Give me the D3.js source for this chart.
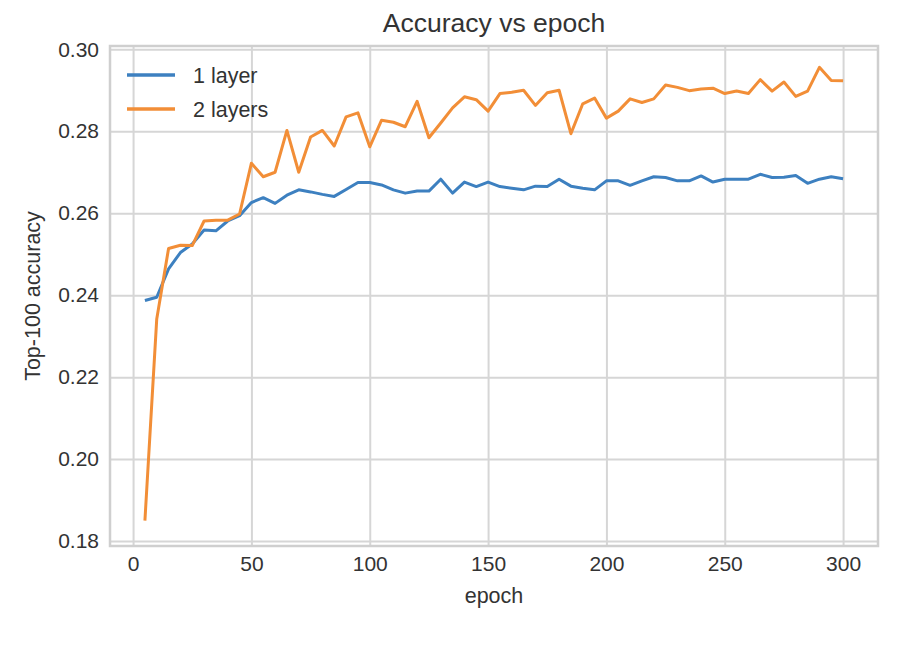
<!DOCTYPE html>
<html>
<head>
<meta charset="utf-8">
<script src="https://cdn.jsdelivr.net/npm/d3@7"></script>
<style>
  body { margin: 0; background: #fff; }
  text { font-family: "Liberation Sans", Arial, sans-serif; }
</style>
</head>
<body>
<div id="chart"></div>
<script>
// epochs on the x axis
var epochs = [5, 10, 15, 20, 25, 30, 35, 40, 45, 50, 55, 60, 65, 70, 75, 80, 85, 90, 95, 100,
              105, 110, 115, 120, 125, 130, 135, 140, 145, 150, 155, 160, 165, 170, 175, 180, 185, 190, 195, 200,
              205, 210, 215, 220, 225, 230, 235, 240, 245, 250, 255, 260, 265, 270, 275, 280, 285, 290, 295, 300];

// top-100 accuracy, 1 layer
var oneLayer = [0.2387, 0.2395, 0.2464, 0.2504, 0.2525, 0.2559, 0.2557, 0.2581, 0.2594, 0.2626,
                0.2638, 0.2624, 0.2644, 0.2657, 0.2652, 0.2646, 0.2641, 0.2658, 0.2675, 0.2675,
                0.2669, 0.2657, 0.2649, 0.2654, 0.2654, 0.2683, 0.2649, 0.2676, 0.2665, 0.2676,
                0.2665, 0.2661, 0.2657, 0.2666, 0.2665, 0.2683, 0.2666, 0.2661, 0.2657, 0.2679,
                0.2679, 0.2668, 0.2679, 0.2689, 0.2687, 0.2679, 0.2679, 0.2691, 0.2676, 0.2683,
                0.2683, 0.2683, 0.2695, 0.2687, 0.2688, 0.2692, 0.2673, 0.2683, 0.2689, 0.2684];

// top-100 accuracy, 2 layers
var twoLayers = [0.1850, 0.2342, 0.2514, 0.2522, 0.2521, 0.2581, 0.2583, 0.2583, 0.2598, 0.2722,
                 0.2689, 0.2700, 0.2802, 0.2700, 0.2786, 0.2802, 0.2764, 0.2835, 0.2845, 0.2762,
                 0.2827, 0.2822, 0.2811, 0.2873, 0.2784, 0.2820, 0.2857, 0.2884, 0.2877, 0.2849,
                 0.2892, 0.2895, 0.2900, 0.2863, 0.2894, 0.2900, 0.2794, 0.2867, 0.2881, 0.2832,
                 0.2849, 0.2879, 0.2870, 0.2879, 0.2913, 0.2907, 0.2899, 0.2903, 0.2905, 0.2892,
                 0.2898, 0.2892, 0.2926, 0.2898, 0.2920, 0.2885, 0.2898, 0.2956, 0.2924, 0.2923];

var xTicks = [0, 50, 100, 150, 200, 250, 300];
var yTicks = [0.18, 0.20, 0.22, 0.24, 0.26, 0.28, 0.30];

var seriesNames = ["1 layer", "2 layers"];
var seriesColors = ["#3d80c0", "#f28e37"];

var width = 920, height = 652;
var plotLeft = 110, plotTop = 46, plotRight = 878, plotBottom = 546;

var svg = d3.select("#chart")
    .append("svg")
    .attr("width", width)
    .attr("height", height);

var xScale = d3.scaleLinear()
    .domain([-9.75, 314.75])
    .range([plotLeft, plotRight]);

var yScale = d3.scaleLinear()
    .domain([0.1788, 0.3008])
    .range([plotBottom, plotTop]);

// grid lines
svg.append("g")
    .attr("class", "x-grid")
    .attr("transform", "translate(0," + plotBottom + ")")
    .call(d3.axisBottom(xScale).tickValues(xTicks).tickSize(-(plotBottom - plotTop)).tickFormat(""))
    .call(function(g) { g.select(".domain").remove(); })
    .selectAll("line")
    .attr("stroke", "#d6d6d6")
    .attr("stroke-width", 2);

svg.append("g")
    .attr("class", "y-grid")
    .attr("transform", "translate(" + plotLeft + ",0)")
    .call(d3.axisLeft(yScale).tickValues(yTicks).tickSize(-(plotRight - plotLeft)).tickFormat(""))
    .call(function(g) { g.select(".domain").remove(); })
    .selectAll("line")
    .attr("stroke", "#d6d6d6")
    .attr("stroke-width", 2);

// frame
svg.append("rect")
    .attr("x", plotLeft)
    .attr("y", plotTop)
    .attr("width", plotRight - plotLeft)
    .attr("height", plotBottom - plotTop)
    .attr("fill", "none")
    .attr("stroke", "#cfcfcf")
    .attr("stroke-width", 2.5);

// axes (labels only, no tick marks)
var xAxis = svg.append("g")
    .attr("transform", "translate(0," + plotBottom + ")")
    .call(d3.axisBottom(xScale).tickValues(xTicks).tickSize(0).tickPadding(10).tickFormat(d3.format("d")));
xAxis.select(".domain").remove();
xAxis.selectAll("text")
    .attr("font-size", "21px")
    .attr("font-family", "Liberation Sans, Arial, sans-serif")
    .attr("fill", "#333");

var yAxis = svg.append("g")
    .attr("transform", "translate(" + plotLeft + ",0)")
    .call(d3.axisLeft(yScale).tickValues(yTicks).tickSize(0).tickPadding(11).tickFormat(d3.format(".2f")));
yAxis.select(".domain").remove();
yAxis.selectAll("text")
    .attr("font-size", "21px")
    .attr("font-family", "Liberation Sans, Arial, sans-serif")
    .attr("fill", "#333");

// lines
var line = d3.line()
    .x(function(d, i) { return xScale(epochs[i]); })
    .y(function(d) { return yScale(d); });

[oneLayer, twoLayers].forEach(function(values, i) {
    svg.append("path")
        .datum(values)
        .attr("fill", "none")
        .attr("stroke", seriesColors[i])
        .attr("stroke-width", 3)
        .attr("stroke-linejoin", "round")
        .attr("d", line);
});

// legend
var legend = svg.append("g").attr("class", "legend");
seriesNames.forEach(function(name, i) {
    var ly = 75 + i * 34;
    legend.append("line")
        .attr("x1", 127)
        .attr("x2", 175)
        .attr("y1", ly)
        .attr("y2", ly)
        .attr("stroke", seriesColors[i])
        .attr("stroke-width", 3.5);
    legend.append("text")
        .attr("x", 193)
        .attr("y", ly)
        .attr("dy", "0.35em")
        .attr("font-size", "21.5px")
        .attr("fill", "#333")
        .text(name);
});

// title
svg.append("text")
    .attr("x", (plotLeft + plotRight) / 2)
    .attr("y", 32)
    .attr("text-anchor", "middle")
    .attr("font-size", "26.5px")
    .attr("fill", "#333")
    .text("Accuracy vs epoch");

// x-axis label
svg.append("text")
    .attr("x", (plotLeft + plotRight) / 2)
    .attr("y", 603)
    .attr("text-anchor", "middle")
    .attr("font-size", "21.5px")
    .attr("fill", "#333")
    .text("epoch");

// y-axis label
svg.append("text")
    .attr("transform", "translate(40," + ((plotTop + plotBottom) / 2) + ") rotate(-90)")
    .attr("text-anchor", "middle")
    .attr("font-size", "21.5px")
    .attr("fill", "#333")
    .text("Top-100 accuracy");
</script>
</body>
</html>
